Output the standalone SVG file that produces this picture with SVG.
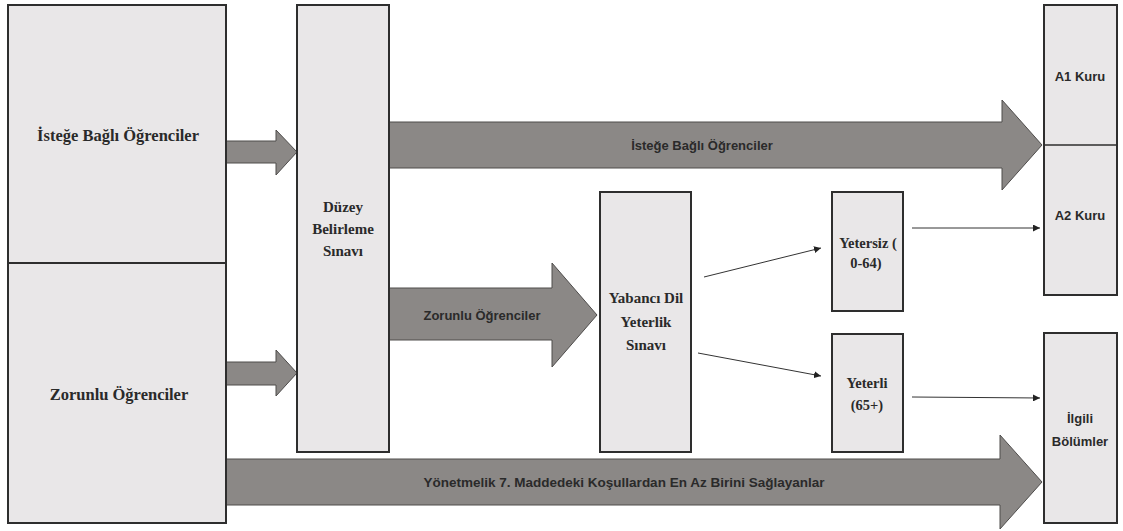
<svg xmlns="http://www.w3.org/2000/svg" width="1123" height="531" viewBox="0 0 1123 531">
  <defs>
    <marker id="tip" viewBox="0 0 10 10" refX="10" refY="5" markerWidth="7" markerHeight="7" markerUnits="userSpaceOnUse" orient="auto">
      <path d="M0,0 L10,5 L0,10 z" fill="#222"/>
    </marker>
    <style>
      .box { fill: #e9e7e8; stroke: #2e2e2e; stroke-width: 2; }
      .block { fill: #8b8886; stroke: #4e4c4b; stroke-width: 1; }
      .serif { font-family: "Liberation Serif", "DejaVu Serif", serif; font-weight: bold; fill: #2a2a2a; text-anchor: middle; }
      .sans { font-family: "Liberation Sans", "DejaVu Sans", sans-serif; font-weight: bold; fill: #2a2a2a; text-anchor: middle; }
      .thin { stroke: #333; stroke-width: 1; fill: none; marker-end: url(#tip); }
    </style>
  </defs>

  <rect width="1123" height="531" fill="#ffffff"/>

  <!-- block arrows and thin connectors -->
  <g id="connectors">
    <!-- left boxes into placement exam -->
    <path class="block" d="M226,141 H276 V130 L297,152 L276,175 V163 H226 z"/>
    <path class="block" d="M226,362 H276 V350 L297,373 L276,396 V385 H226 z"/>
    <!-- elective students to A1 -->
    <path class="block" d="M389,122 H1002 V100 L1042,145 L1002,190 V168 H389 z"/>
    <text class="sans" x="702" y="150" font-size="13">İsteğe Bağlı Öğrenciler</text>
    <!-- compulsory students to proficiency exam -->
    <path class="block" d="M389,288 H552 V263 L597,315 L552,367 V340 H389 z"/>
    <text class="sans" x="482" y="320" font-size="13">Zorunlu Öğrenciler</text>
    <!-- exempt students to departments -->
    <path class="block" d="M226,459 H1000 V435 L1042,482 L1000,529 V505 H226 z"/>
    <text class="sans" x="624" y="487" font-size="13.5">Yönetmelik 7. Maddedeki Koşullardan En Az Birini Sağlayanlar</text>
    <!-- exam outcomes -->
    <line class="thin" x1="704" y1="277" x2="821" y2="248"/>
    <line class="thin" x1="698" y1="353" x2="821" y2="376"/>
    <line class="thin" x1="912" y1="228" x2="1040" y2="228"/>
    <line class="thin" x1="912" y1="397" x2="1040" y2="398"/>
  </g>

  <g id="students">
    <rect class="box" x="8" y="5" width="218" height="518"/>
    <line x1="8" y1="263" x2="226" y2="263" stroke="#2e2e2e" stroke-width="2"/>
    <text class="serif" x="118" y="141" font-size="16.5">İsteğe Bağlı Öğrenciler</text>
    <text class="serif" x="119" y="400" font-size="16.5">Zorunlu Öğrenciler</text>
  </g>

  <g id="placement-exam">
    <rect class="box" x="297" y="5" width="92" height="447"/>
    <text class="serif" x="343" y="212" font-size="15">Düzey</text>
    <text class="serif" x="343" y="234" font-size="15">Belirleme</text>
    <text class="serif" x="343" y="256" font-size="15">Sınavı</text>
  </g>

  <g id="proficiency-exam">
    <rect class="box" x="600" y="192" width="91" height="260"/>
    <text class="serif" x="646" y="303" font-size="15">Yabancı Dil</text>
    <text class="serif" x="646" y="327" font-size="15">Yeterlik</text>
    <text class="serif" x="646" y="350" font-size="15">Sınavı</text>
  </g>

  <g id="insufficient">
    <rect class="box" x="832" y="192" width="71" height="119"/>
    <text class="serif" x="868" y="248" font-size="14.5">Yetersiz (</text>
    <text class="serif" x="866" y="268" font-size="14.5">0-64)</text>
  </g>

  <g id="sufficient">
    <rect class="box" x="832" y="334" width="71" height="118"/>
    <text class="serif" x="867" y="388" font-size="14.5">Yeterli</text>
    <text class="serif" x="867" y="410" font-size="14.5">(65+)</text>
  </g>

  <g id="courses">
    <rect class="box" x="1044" y="5" width="73" height="290"/>
    <line x1="1044" y1="145" x2="1117" y2="145" stroke="#2e2e2e" stroke-width="1.5"/>
    <text class="sans" x="1080" y="81" font-size="13">A1 Kuru</text>
    <text class="sans" x="1080" y="220" font-size="13">A2 Kuru</text>
  </g>

  <g id="departments">
    <rect class="box" x="1044" y="333" width="73" height="190"/>
    <text class="sans" x="1080" y="423" font-size="13">İlgili</text>
    <text class="sans" x="1080" y="446" font-size="13">Bölümler</text>
  </g>
</svg>
